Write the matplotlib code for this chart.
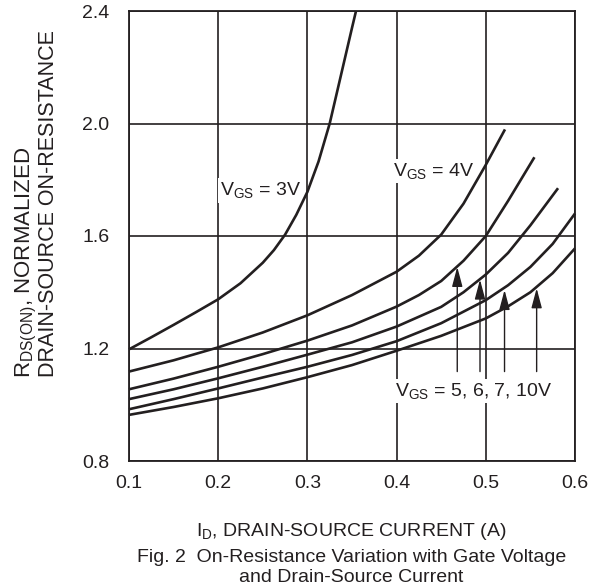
import matplotlib
matplotlib.use("Agg")
import matplotlib.pyplot as plt

plt.rcParams['font.family'] = ['Liberation Sans', 'DejaVu Sans']
plt.rcParams['mathtext.fontset'] = 'custom'
plt.rcParams['mathtext.rm'] = 'Liberation Sans'
plt.rcParams['mathtext.it'] = 'Liberation Sans:italic'
plt.rcParams['mathtext.bf'] = 'Liberation Sans:bold'

INK = '#231f20'

# ---- data ----
x_3v = [0.10, 0.125, 0.15, 0.175, 0.20, 0.225, 0.25, 0.2625, 0.275, 0.2875,
        0.30, 0.3125, 0.325, 0.3375, 0.35, 0.3545]
y_3v = [1.197, 1.240, 1.284, 1.329, 1.375, 1.432, 1.505, 1.550, 1.605, 1.675,
        1.757, 1.865, 2.000, 2.170, 2.340, 2.400]

x_4v = [0.10, 0.15, 0.20, 0.25, 0.30, 0.35, 0.40, 0.425, 0.45, 0.475, 0.50, 0.5215]
y_4v = [1.118, 1.158, 1.204, 1.257, 1.318, 1.390, 1.473, 1.530, 1.605, 1.715, 1.853, 1.979]

x_5v = [0.10, 0.15, 0.20, 0.25, 0.30, 0.35, 0.40, 0.425, 0.45, 0.475, 0.50, 0.525, 0.5545]
y_5v = [1.055, 1.093, 1.135, 1.180, 1.228, 1.282, 1.349, 1.390, 1.440, 1.512, 1.600, 1.725, 1.880]

x_6v = [0.10, 0.15, 0.20, 0.25, 0.30, 0.35, 0.40, 0.45, 0.475, 0.50, 0.525, 0.55, 0.581]
y_6v = [1.020, 1.055, 1.094, 1.135, 1.178, 1.222, 1.278, 1.348, 1.400, 1.463, 1.540, 1.638, 1.770]

x_7v = [0.10, 0.15, 0.20, 0.25, 0.30, 0.35, 0.40, 0.45, 0.50, 0.525, 0.55, 0.575, 0.60]
y_7v = [0.984, 1.020, 1.058, 1.097, 1.135, 1.177, 1.226, 1.290, 1.372, 1.425, 1.490, 1.572, 1.680]

x_10v = [0.10, 0.15, 0.20, 0.25, 0.30, 0.35, 0.40, 0.45, 0.50, 0.525, 0.55, 0.575, 0.60]
y_10v = [0.964, 0.992, 1.023, 1.058, 1.098, 1.141, 1.192, 1.245, 1.307, 1.350, 1.400, 1.468, 1.556]

arrow_x = [0.468, 0.4935, 0.521, 0.557]
arrow_tip_y = [1.490, 1.445, 1.408, 1.414]
arrow_base_y = 1.118

x_ticks = [0.1, 0.2, 0.3, 0.4, 0.5, 0.6]
x_tick_labels = ['0.1', '0.2', '0.3', '0.4', '0.5', '0.6']
y_ticks = [0.8, 1.2, 1.6, 2.0, 2.4]
y_tick_labels = ['0.8', '1.2', '1.6', '2.0', '2.4']

# ---- figure ----
W, H = 595, 587
fig = plt.figure(figsize=(W / 100, H / 100), dpi=100)
ax = fig.add_axes([129 / W, (H - 461) / H, (575 - 129) / W, (461 - 11) / H])

ax.set_xlim(0.1, 0.6)
ax.set_ylim(0.8, 2.4)
ax.set_xticks(x_ticks)
ax.set_xticklabels(x_tick_labels)
ax.set_yticks(y_ticks)
ax.set_yticklabels(y_tick_labels)
ax.tick_params(axis='both', length=0, labelsize=14, colors=INK)
ax.tick_params(axis='x', pad=10)
ax.tick_params(axis='y', pad=14)
ax.grid(True, color=INK, linewidth=1.2, zorder=1)
ax.set_axisbelow(True)
for s in ax.spines.values():
    s.set_color(INK)
    s.set_linewidth(1.3)

for xs, ys in [(x_3v, y_3v), (x_4v, y_4v), (x_5v, y_5v),
               (x_6v, y_6v), (x_7v, y_7v), (x_10v, y_10v)]:
    ax.plot(xs, ys, color=INK, linewidth=1.9, solid_capstyle='butt',
            solid_joinstyle='round', zorder=4, clip_on=False)

for xa, ya in zip(arrow_x, arrow_tip_y):
    ax.annotate('', xy=(xa, ya), xytext=(xa, arrow_base_y),
                arrowprops=dict(arrowstyle='-|>,head_length=1.2,head_width=0.32',
                                color=INK, lw=1.0, shrinkA=0, shrinkB=0,
                                mutation_scale=10),
                zorder=5)

box = dict(facecolor='white', edgecolor='none', pad=1.5)
ax.text(0.202, 1.762, r'V$_{\mathrm{GS}}$ = 3V', fontsize=14, color=INK,
        ha='left', va='center', bbox=box, zorder=3)
ax.text(0.396, 1.832, r'V$_{\mathrm{GS}}$ = 4V', fontsize=14, color=INK,
        ha='left', va='center', bbox=box, zorder=3)
ax.text(0.398, 1.048, r'V$_{\mathrm{GS}}$ = 5, 6, 7, 10V', fontsize=14, color=INK,
        ha='left', va='center', bbox=box, zorder=3)

# axis labels and caption
cx = 351.5 / W
fig.text(cx, (H - 531) / H, r'I$_{\mathrm{D}}$, DRAIN-SOURCE CURRENT (A)',
         fontsize=14, color=INK, ha='center', va='center')
fig.text(cx, (H - 557) / H, 'Fig. 2  On-Resistance Variation with Gate Voltage',
         fontsize=14, color=INK, ha='center', va='center')
fig.text(cx, (H - 578) / H, 'and Drain-Source Current',
         fontsize=14, color=INK, ha='center', va='center')

fig.text(26 / W, (H - 378) / H, r'R$_{\mathrm{DS(ON)}}$, NORMALIZED',
         fontsize=16, color=INK, rotation=90, ha='center', va='bottom')
fig.text(49 / W, (H - 377) / H, 'DRAIN-SOURCE ON-RESISTANCE',
         fontsize=15.5, color=INK, rotation=90, ha='center', va='bottom')

fig.savefig('out.png', dpi=100)
